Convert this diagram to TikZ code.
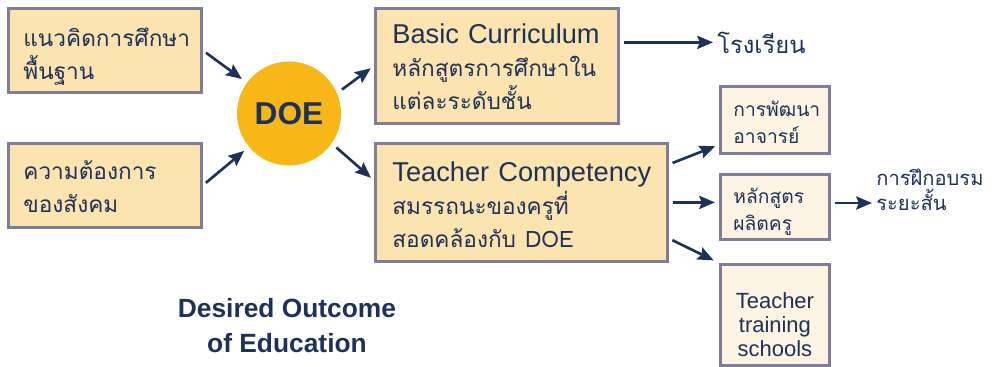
\documentclass[tikz,border=0pt]{standalone}
\usepackage{fontspec}
\setmainfont{Liberation Sans}
\newfontfamily\thaifont[Script=Thai,Scale=0.83]{Loma}
\usetikzlibrary{arrows.meta,calc}

\definecolor{boxfill}{HTML}{FCE4B0}
\definecolor{boxline}{HTML}{7F7E99}
\definecolor{smallfill}{HTML}{FDF4E3}
\definecolor{doegold}{HTML}{F7B719}
\definecolor{navy}{HTML}{1E3158}

\newdimen\pxu \pxu=0.02cm

\tikzset{
  x=\pxu, y=-\pxu,
  bigbox/.style={draw=boxline, line width=1.6pt, fill=boxfill, text=navy,
    anchor=north west, align=left, inner ysep=0pt,
    font=\fontsize{15.5}{18.7}\selectfont},
  smallbox/.style={draw=boxline, line width=1.6pt, fill=smallfill, text=navy,
    anchor=north west, align=left, inner ysep=0pt, inner xsep=13\pxu, text width=83\pxu,
    font=\fontsize{13.2}{15.3}\selectfont},
  flow/.style={draw=navy, line width=1.5pt,
    -{Stealth[length=9pt,width=7.5pt,inset=1.5pt]}, shorten <=4\pxu, shorten >=4\pxu},
}

\begin{document}
\begin{tikzpicture}
  \useasboundingbox (0,0) rectangle (998,366);

  % left inputs
  \node[bigbox, inner xsep=15\pxu, text width=163\pxu, text height=38\pxu, text depth=46\pxu] (idea) at (7,7)
    {\thaifont แนวคิดการศึกษา\\ \thaifont พื้นฐาน};
  \node[bigbox, inner xsep=15\pxu, text width=163\pxu, text height=36\pxu, text depth=48\pxu] (need) at (7,142)
    {\thaifont ความต้องการ\\ \thaifont ของสังคม};

  % centre
  \node[circle, fill=doegold, minimum size=104\pxu, inner sep=0pt, text=navy,
    font=\fontsize{18}{22}\selectfont\bfseries] (doe) at (289,113.5) {DOE};
  \node[text=navy, align=center, font=\fontsize{15}{20}\selectfont\bfseries] (desired) at (287,326)
    {Desired Outcome\\ of Education};

  % outputs
  \node[bigbox, inner xsep=17\pxu, text width=209\pxu, text height=35\pxu, text depth=80\pxu] (basic) at (374,7)
    {\mbox{Basic Curriculum}\\ \thaifont หลักสูตรการศึกษาใน\\ \thaifont แต่ละระดับชั้น};
  \node[bigbox, inner xsep=17\pxu, text width=258\pxu, text height=38\pxu, text depth=80\pxu] (comp) at (374,142)
    {\mbox{Teacher Competency}\\ \thaifont สมรรถนะของครูที่\\ {\thaifont สอดคล้องกับ} DOE};

  \node[text=navy, anchor=base west, inner sep=0pt, font=\fontsize{16.3}{20}\selectfont\thaifont] (school) at (717,53)
    {โรงเรียน};

  \node[smallbox, text height=30\pxu, text depth=37\pxu] (devel) at (719,85)
    {\thaifont การพัฒนา\\ \thaifont อาจารย์};
  \node[smallbox, text height=29\pxu, text depth=36\pxu] (course) at (719,173)
    {\thaifont หลักสูตร\\ \thaifont ผลิตครู};
  \node[smallbox, align=center, text height=44\pxu, text depth=57\pxu,
    font=\fontsize{12.5}{13.6}\selectfont] (colleges) at (719,263)
    {Teacher\\ training\\ schools};
  \node[text=navy, anchor=base west, align=left, inner sep=0pt, font=\fontsize{13.8}{14.2}\selectfont] (short) at (876,210)
    {\thaifont การฝึกอบรม\\ \thaifont ระยะสั้น};

  % arrows
  \draw[flow, shorten >=6\pxu] (idea.east) -- (doe);
  \draw[flow, shorten >=6\pxu] (need.east) -- (doe);
  \draw[flow, shorten <=6\pxu] (doe.23) -- (basic.west);
  \draw[flow, shorten <=6\pxu] (doe.-35) -- ($(comp.west)+(0,-22)$);
  \draw[flow] (basic.east |- school.west) -- (school.west);
  \draw[flow] ($(comp.east)+(0,-38)$) -- ($(devel.south west)+(0,-10)$);
  \draw[flow] (comp.east) -- (comp.east -| course.west);
  \draw[flow, shorten >=6\pxu] ($(comp.east)+(0,36)$) -- (colleges.north west);
  \draw[flow] (course.east |- 0,203) -- (short.west |- 0,203);
\end{tikzpicture}
\end{document}
